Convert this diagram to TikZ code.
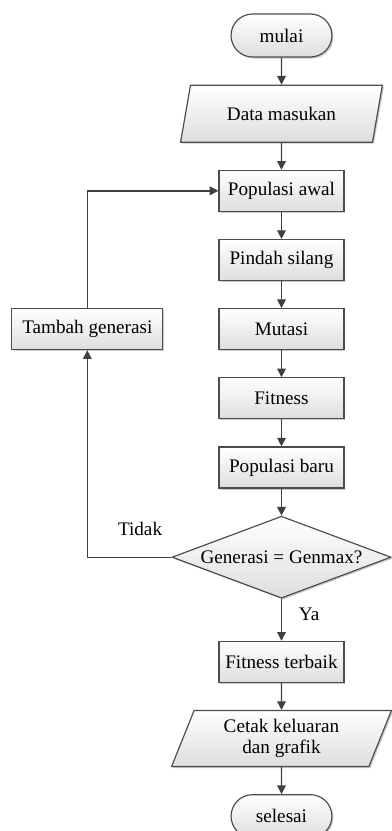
\documentclass[tikz,border=0pt]{standalone}
\usepackage{fontspec}
\setmainfont{Liberation Serif}
\usetikzlibrary{positioning, shapes.geometric, shapes.misc, shadows, arrows.meta}

\begin{document}
\begin{tikzpicture}[font=\fontsize{11.5}{12.8}\selectfont,
		garis/.style={draw=black!70, line width=0.7pt},
		isi/.style={garis, top color=white, bottom color=black!13, drop shadow={shadow xshift=0.9pt, shadow yshift=-0.9pt, fill=black!35, opacity=0.6}},
		terminal/.style={isi, rounded rectangle, minimum width=67.2pt, minimum height=25.8pt},
		proses/.style={isi, rectangle, minimum width=75pt, minimum height=24.6pt},
		io/.style={isi, trapezium, trapezium left angle=70, trapezium right angle=110, trapezium stretches=true, align=center, inner sep=1pt},
		keputusan/.style={isi, diamond, aspect=2.67, inner sep=0pt, minimum width=131.4pt, minimum height=49.2pt},
		panah/.style={draw=black!75, line width=0.8pt, -{Triangle[length=5.2pt, width=5.2pt]}}]
		\useasboundingbox (-168.9pt,21.3pt) rectangle (66.3pt,-477.3pt);
		
		\node[terminal] (mulai) {mulai};
		\node[io, below=16.2pt of mulai, minimum width=121.8pt, minimum height=34.2pt] (data) {Data masukan};
		\node[proses, below=16.2pt of data] (awal) {Populasi awal};
		\node[proses, below=16.2pt of awal] (silang) {Pindah silang};
		\node[proses, below=16.2pt of silang] (mutasi) {Mutasi};
		\node[proses, below=16.2pt of mutasi] (fit) {Fitness};
		\node[proses, below=16.2pt of fit] (baru) {Populasi baru};
		\node[keputusan, below=16.2pt of baru] (cek) {Generasi = Genmax?};
		\node[proses, below=25.2pt of cek] (terbaik) {Fitness terbaik};
		\node[io, below=16.2pt of terbaik, minimum width=132.6pt, minimum height=33.6pt] (cetak) {Cetak keluaran\\dan grafik};
		\node[terminal, below=16.2pt of cetak] (selesai) {selesai};
		
		\node[proses, left=33pt of mutasi, minimum width=90.6pt] (tambah) {Tambah generasi};
		\node[above left=12.6pt and 5.4pt of cek.west, inner sep=0pt] (tidak) {Tidak};
		\node[below right=5.4pt and 10.2pt of cek.south, inner sep=0pt] (ya) {Ya};
		
		\draw[panah] (mulai) -- (data);
		\draw[panah] (data) -- (awal);
		\draw[panah] (awal) -- (silang);
		\draw[panah] (silang) -- (mutasi);
		\draw[panah] (mutasi) -- (fit);
		\draw[panah] (fit) -- (baru);
		\draw[panah] (baru) -- (cek);
		\draw[panah] (cek) -- (terbaik);
		\draw[panah] (terbaik) -- (cetak);
		\draw[panah] (cetak) -- (selesai);
		\draw[panah] (cek.west) -| (tambah.south);
		\draw[panah] (tambah.north) |- (awal.west);
	\end{tikzpicture}
\end{document}
